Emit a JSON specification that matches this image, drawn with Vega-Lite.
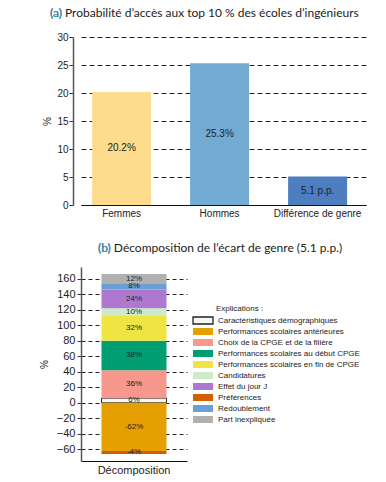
{
  "$schema": "https://vega.github.io/schema/vega-lite/v6.json",
  "background": "white",
  "padding": {"left": 39, "top": 7, "right": 5, "bottom": 5},
  "config": {"view": {"stroke": null}, "font": "Liberation Sans", "concat": {"spacing": 24}},
  "columns": 1,
  "align": "none",
  "spacing": 24,
  "resolve": {
    "scale": {"x": "independent", "y": "independent", "color": "independent", "stroke": "independent"},
    "axis": {"x": "independent", "y": "independent"},
    "legend": {"color": "independent", "stroke": "independent"}
  },
  "concat": [
    {
      "width": 285,
      "height": 168,
      "title": {
        "text": "(a) Probabilité d’accès aux top 10 % des écoles d’ingénieurs",
        "subtitle": "(a)",
        "anchor": "start",
        "frame": "group",
        "dx": -31,
        "font": "Lato",
        "fontSize": 12,
        "fontWeight": "normal",
        "color": "#222222",
        "subtitleFont": "Lato",
        "subtitleFontSize": 12,
        "subtitleFontWeight": "normal",
        "subtitleColor": "#3FA2C5",
        "subtitlePadding": -12,
        "offset": 12
      },
      "data": {
        "values": [
          {"groupe": "Femmes", "valeur": 20.2, "label": "20.2%"},
          {"groupe": "Hommes", "valeur": 25.3, "label": "25.3%"},
          {"groupe": "Différence de genre", "valeur": 5.1, "label": "5.1 p.p."}
        ]
      },
      "encoding": {
        "x": {
          "field": "groupe",
          "type": "nominal",
          "sort": null,
          "scale": {"paddingInner": 0.398, "paddingOuter": 0.153, "align": 0.37},
          "axis": {
            "title": null,
            "labelAngle": 0,
            "ticks": false,
            "labelFontSize": 10,
            "labelColor": "#222222",
            "labelPadding": 3,
            "domainColor": "#111111",
            "domainWidth": 1
          }
        }
      },
      "layer": [
        {
          "mark": {"type": "bar"},
          "encoding": {
            "y": {
              "field": "valeur",
              "type": "quantitative",
              "scale": {"domain": [0, 30], "nice": false},
              "axis": {
                "title": "%",
                "titleFontSize": 10,
                "titleFontWeight": "normal",
                "titleColor": "#222222",
                "titlePadding": 4,
                "offset": 8,
                "values": [0, 5, 10, 15, 20, 25, 30],
                "format": "d",
                "tickCount": 50,
                "labelOverlap": false,
                "labelFontSize": 10,
                "labelColor": "#222222",
                "labelPadding": 1,
                "tickSize": 4,
                "tickColor": "#333333",
                "domainColor": "#555555",
                "domainWidth": 1.5,
                "grid": true,
                "gridColor": "#222222",
                "gridDash": [5, 3],
                "gridWidth": 1
              }
            },
            "color": {
              "field": "groupe",
              "type": "nominal",
              "scale": {"domain": ["Femmes", "Hommes", "Différence de genre"], "range": ["#FDDC8E", "#74ABD3", "#4C7EC0"]},
              "legend": null
            }
          }
        },
        {
          "transform": [
            {"stack": "valeur", "groupby": ["groupe"], "as": ["v0", "v1"]},
            {"fold": ["v0", "v1"], "as": ["k", "pos"]}
          ],
          "mark": {"type": "text", "fontSize": 10, "color": "#222222"},
          "encoding": {
            "y": {"field": "pos", "aggregate": "mean", "type": "quantitative", "title": "%"},
            "text": {"field": "label"}
          }
        }
      ]
    },
    {
      "width": 106,
      "height": 194,
      "title": {
        "text": "(b) Décomposition de l’écart de genre (5.1 p.p.)",
        "subtitle": "(b)",
        "anchor": "start",
        "frame": "group",
        "dx": 17,
        "font": "Lato",
        "fontSize": 12,
        "fontWeight": "normal",
        "color": "#222222",
        "subtitleFont": "Lato",
        "subtitleFontSize": 12,
        "subtitleFontWeight": "normal",
        "subtitleColor": "#3FA2C5",
        "subtitlePadding": -12,
        "offset": 12
      },
      "data": {
        "values": [
          {"axe": "Décomposition", "cat": "Caractéristiques démographiques", "valeur": 6, "label": "6%", "ordre": 1},
          {"axe": "Décomposition", "cat": "Performances scolaires antérieures", "valeur": -62, "label": "-62%", "ordre": 2},
          {"axe": "Décomposition", "cat": "Choix de la CPGE et de la filière", "valeur": 36, "label": "36%", "ordre": 3},
          {"axe": "Décomposition", "cat": "Performances scolaires au début CPGE", "valeur": 38, "label": "38%", "ordre": 4},
          {"axe": "Décomposition", "cat": "Performances scolaires en fin de CPGE", "valeur": 32, "label": "32%", "ordre": 5},
          {"axe": "Décomposition", "cat": "Candidatures", "valeur": 10, "label": "10%", "ordre": 6},
          {"axe": "Décomposition", "cat": "Effet du jour J", "valeur": 24, "label": "24%", "ordre": 7},
          {"axe": "Décomposition", "cat": "Préférences", "valeur": -4, "label": "-4%", "ordre": 8},
          {"axe": "Décomposition", "cat": "Redoublement", "valeur": 8, "label": "8%", "ordre": 9},
          {"axe": "Décomposition", "cat": "Part inexpliquée", "valeur": 12, "label": "12%", "ordre": 10}
        ]
      },
      "encoding": {
        "x": {
          "field": "axe",
          "type": "nominal",
          "scale": {"paddingInner": 0, "paddingOuter": 0.315},
          "axis": {
            "title": null,
            "labelAngle": 0,
            "ticks": false,
            "labelFontSize": 11,
            "labelColor": "#222222",
            "labelPadding": 3,
            "domainColor": "#111111",
            "domainWidth": 1
          }
        }
      },
      "layer": [
        {
          "mark": {"type": "bar", "strokeWidth": 1},
          "encoding": {
            "y": {
              "field": "valeur",
              "type": "quantitative",
              "stack": "zero",
              "scale": {"domain": [-75, 175], "nice": false},
              "axis": {
                "title": "%",
                "titleFontSize": 10,
                "titleFontWeight": "normal",
                "titleColor": "#222222",
                "titlePadding": 7,
                "values": [-60, -40, -20, 0, 20, 40, 60, 80, 100, 120, 140, 160],
                "tickCount": 50,
                "labelOverlap": false,
                "labelFontSize": 11,
                "labelColor": "#222222",
                "labelPadding": 2,
                "tickSize": 4,
                "tickColor": "#333333",
                "domainColor": "#555555",
                "domainWidth": 1.5,
                "grid": true,
                "gridColor": "#222222",
                "gridDash": [4, 3],
                "gridWidth": 1
              }
            },
            "order": {"field": "ordre", "type": "quantitative"},
            "color": {
              "field": "cat",
              "type": "nominal",
              "scale": {
                "domain": ["Caractéristiques démographiques", "Performances scolaires antérieures", "Choix de la CPGE et de la filière", "Performances scolaires au début CPGE", "Performances scolaires en fin de CPGE", "Candidatures", "Effet du jour J", "Préférences", "Redoublement", "Part inexpliquée"],
                "range": ["#F7F7F7", "#E69F00", "#F8978B", "#009E73", "#F0E442", "#CDEBC8", "#AE78D0", "#D55E00", "#6A9ED6", "#B0B0B0"]
              },
              "legend": {
                "orient": "none",
                "legendX": 135,
                "legendY": 38,
                "title": "Explications :",
                "titleFontSize": 8,
                "titleFontWeight": "normal",
                "titleColor": "#222222",
                "titlePadding": 3,
                "labelFontSize": 8,
                "labelColor": "#222222",
                "symbolType": "M-7.857,-1H-2.143V1H-7.857Z",
                "symbolSize": 49,
                "symbolStrokeWidth": 1.3,
                "symbolOpacity": 1,
                "rowPadding": -2,
                "labelOffset": -7,
                "labelLimit": 300
              }
            },
            "stroke": {
              "field": "cat",
              "type": "nominal",
              "scale": {
                "domain": ["Caractéristiques démographiques", "Performances scolaires antérieures", "Choix de la CPGE et de la filière", "Performances scolaires au début CPGE", "Performances scolaires en fin de CPGE", "Candidatures", "Effet du jour J", "Préférences", "Redoublement", "Part inexpliquée"],
                "range": ["#222222", "transparent", "transparent", "transparent", "transparent", "transparent", "transparent", "transparent", "transparent", "transparent"]
              },
              "legend": {
                "orient": "none",
                "legendX": 135,
                "legendY": 38,
                "title": "Explications :",
                "titleFontSize": 8,
                "titleFontWeight": "normal",
                "titleColor": "#222222",
                "titlePadding": 3,
                "labelFontSize": 8,
                "labelColor": "#222222",
                "symbolType": "M-7.857,-1H-2.143V1H-7.857Z",
                "symbolSize": 49,
                "symbolStrokeWidth": 1.3,
                "symbolOpacity": 1,
                "rowPadding": -2,
                "labelOffset": -7,
                "labelLimit": 300
              }
            }
          }
        },
        {
          "transform": [
            {"stack": "valeur", "groupby": ["axe"], "sort": [{"field": "ordre", "order": "ascending"}], "offset": "zero", "as": ["v0", "v1"]},
            {"fold": ["v0", "v1"], "as": ["k", "pos"]}
          ],
          "mark": {"type": "text", "fontSize": 8, "color": "#222222"},
          "encoding": {
            "y": {"field": "pos", "aggregate": "mean", "type": "quantitative", "title": "%"},
            "text": {"field": "label"}
          }
        }
      ]
    }
  ]
}
